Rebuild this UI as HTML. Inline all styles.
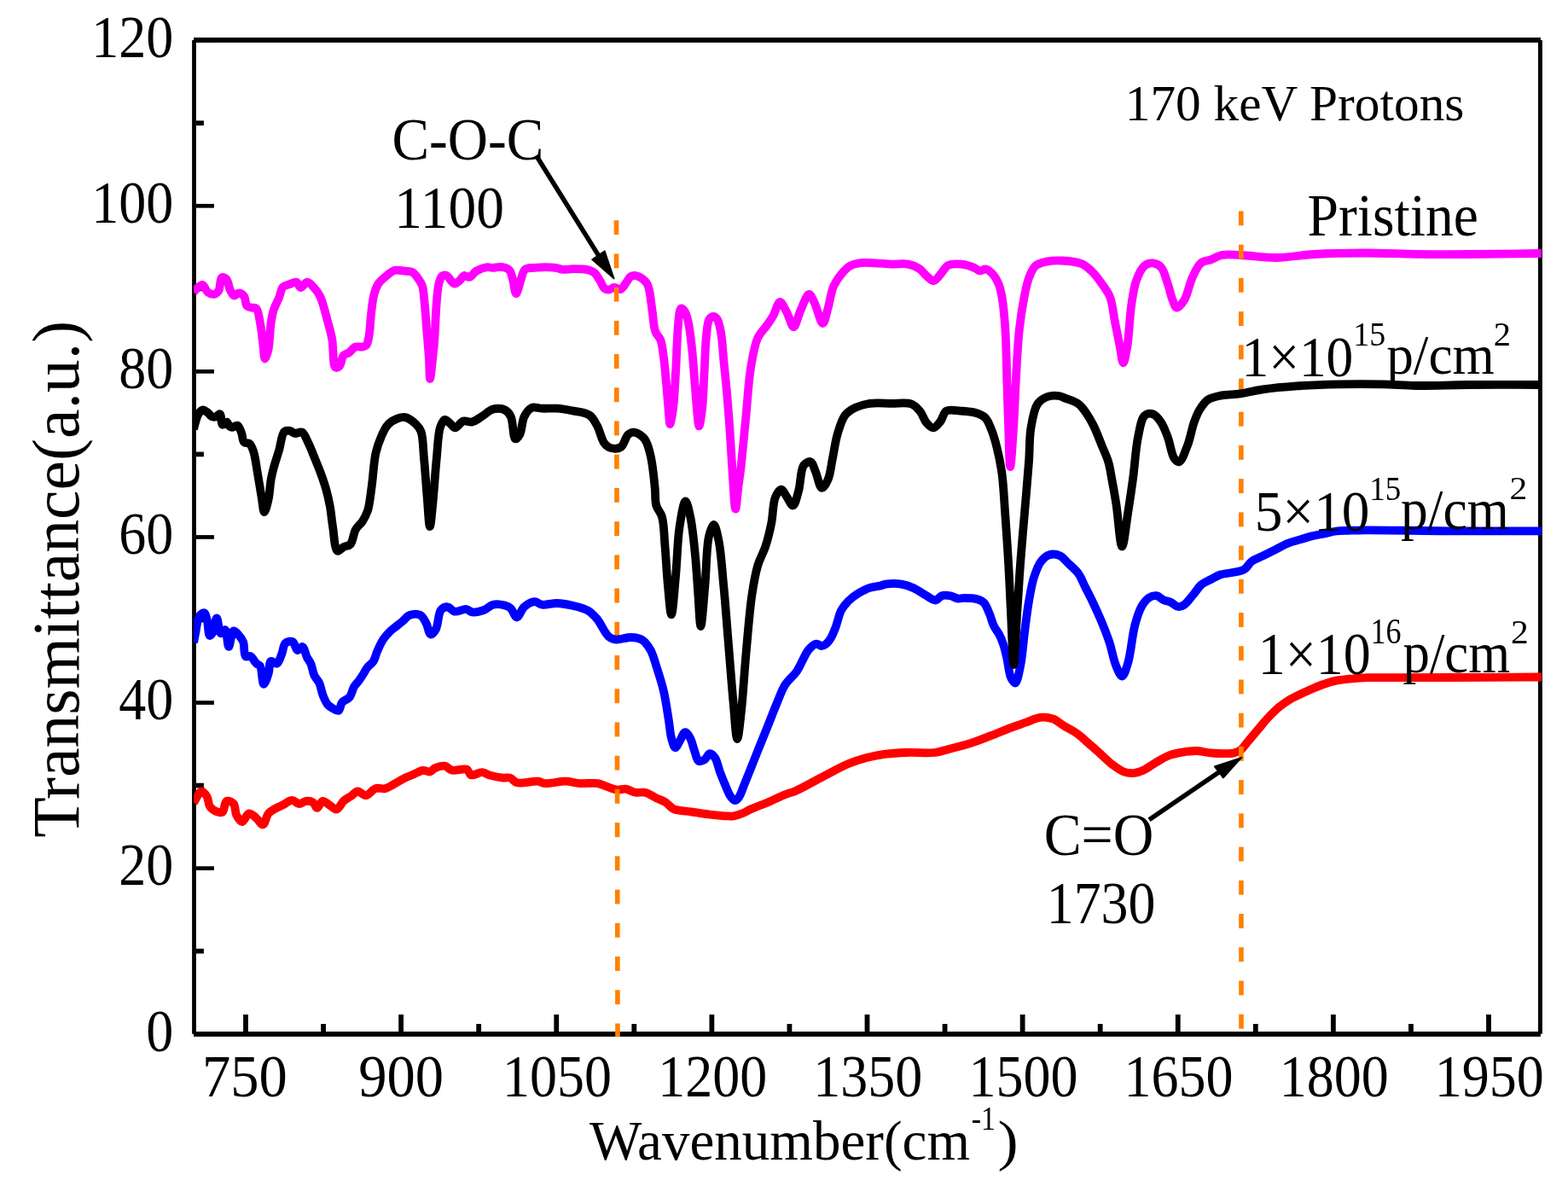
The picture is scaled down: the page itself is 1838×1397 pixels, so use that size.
<!DOCTYPE html><html><head><meta charset="utf-8"><title>FTIR</title><style>html,body{margin:0;padding:0;background:#fff;}svg{display:block;}text{font-family:"Liberation Serif", "Times New Roman", serif;fill:#000;}</style></head><body>
<svg width="1838" height="1397" viewBox="0 0 1838 1397">
<rect width="1838" height="1397" fill="#fff"/>
<g fill="#000">
<rect x="225.1" y="47.1" width="4.8" height="1164.7"/>
<rect x="1803.0" y="47.1" width="4.9" height="1164.6"/>
<rect x="227.1" y="44.0" width="1578.8" height="5.9"/>
<rect x="227.1" y="1209.0" width="1578.8" height="5.9"/>
<rect x="229.9" y="1209.35" width="21.0" height="4.7"/>
<rect x="229.9" y="1111.81" width="9.0" height="5.7"/>
<rect x="229.9" y="1015.27" width="21.0" height="4.7"/>
<rect x="229.9" y="917.73" width="9.0" height="5.7"/>
<rect x="229.9" y="821.19" width="21.0" height="4.7"/>
<rect x="229.9" y="723.65" width="9.0" height="5.7"/>
<rect x="229.9" y="627.11" width="21.0" height="4.7"/>
<rect x="229.9" y="529.57" width="9.0" height="5.7"/>
<rect x="229.9" y="433.03" width="21.0" height="4.7"/>
<rect x="229.9" y="335.49" width="9.0" height="5.7"/>
<rect x="229.9" y="238.95" width="21.0" height="4.7"/>
<rect x="229.9" y="141.41" width="9.0" height="5.7"/>
<rect x="229.9" y="44.87" width="21.0" height="4.7"/>
<rect x="285.10" y="1189.0" width="5.8" height="20.0"/>
<rect x="376.16" y="1200.0" width="5.8" height="9.0"/>
<rect x="467.23" y="1189.0" width="5.8" height="20.0"/>
<rect x="558.29" y="1200.0" width="5.8" height="9.0"/>
<rect x="649.35" y="1189.0" width="5.8" height="20.0"/>
<rect x="740.41" y="1200.0" width="5.8" height="9.0"/>
<rect x="831.48" y="1189.0" width="5.8" height="20.0"/>
<rect x="922.54" y="1200.0" width="5.8" height="9.0"/>
<rect x="1013.60" y="1189.0" width="5.8" height="20.0"/>
<rect x="1104.66" y="1200.0" width="5.8" height="9.0"/>
<rect x="1195.72" y="1189.0" width="5.8" height="20.0"/>
<rect x="1286.79" y="1200.0" width="5.8" height="9.0"/>
<rect x="1377.85" y="1189.0" width="5.8" height="20.0"/>
<rect x="1468.91" y="1200.0" width="5.8" height="9.0"/>
<rect x="1559.97" y="1189.0" width="5.8" height="20.0"/>
<rect x="1651.04" y="1200.0" width="5.8" height="9.0"/>
<rect x="1742.10" y="1189.0" width="5.8" height="20.0"/>
</g>
<defs><clipPath id="pc"><rect x="227" y="0" width="1580.5" height="1397"/></clipPath></defs>
<g clip-path="url(#pc)">
<path d="M227.0,342.5C227.8,341.5 228.3,340.6 229.5,339.5C231.3,337.8 235.0,333.5 237.3,333.9C239.7,334.3 241.1,340.7 243.6,342.5C245.7,344.0 248.6,345.2 250.7,344.9C252.7,344.6 254.7,343.0 256.2,340.9C258.4,337.6 257.8,326.4 260.2,325.2C261.6,324.5 264.2,326.0 265.7,327.6C267.8,329.9 268.0,336.1 269.6,339.4C270.9,342.2 272.4,346.1 274.3,346.5C275.9,346.9 277.9,343.3 279.8,343.3C281.8,343.3 284.6,345.2 286.1,347.2C288.0,349.7 287.4,356.1 289.3,358.3C290.7,359.9 292.9,360.1 294.8,360.6C296.6,361.1 298.8,360.1 300.3,361.4C303.0,363.8 303.7,372.4 305.0,378.7C306.5,385.9 307.2,395.0 308.2,402.4C309.1,408.8 309.3,420.4 310.6,420.5C311.6,420.6 313.5,414.4 314.5,409.8C316.2,402.2 316.3,387.3 317.6,378.7C318.5,372.6 319.2,368.0 320.8,363.0C322.4,358.1 325.2,353.4 327.1,348.8C328.9,344.5 329.3,338.8 331.8,336.2C333.8,334.1 337.0,333.9 339.7,333.0C342.3,332.1 345.5,330.0 347.6,330.7C349.7,331.4 350.4,336.8 352.3,337.0C354.5,337.3 357.6,330.7 360.2,330.7C362.8,330.7 365.6,334.4 368.0,337.0C370.6,339.8 372.9,342.7 375.1,347.2C378.5,354.1 381.3,366.7 383.8,375.6C386.0,383.4 387.8,389.5 389.3,397.6C391.1,407.5 389.9,428.6 393.2,430.7C394.5,431.5 396.6,430.4 398.0,429.1C400.2,427.0 400.4,419.1 402.7,416.5C404.4,414.6 406.9,414.8 409.0,413.4C411.5,411.7 413.7,407.7 416.4,406.6C418.8,405.7 421.9,407.0 424.2,406.6C426.1,406.3 428.0,406.1 429.3,404.7C431.3,402.6 431.7,397.8 432.6,393.1C433.9,386.2 434.1,375.5 435.1,367.3C436.0,359.7 436.7,351.7 438.4,345.4C439.7,340.4 441.2,336.1 443.5,332.5C445.6,329.3 448.2,327.3 451.2,324.8C454.6,322.0 458.7,317.9 462.8,316.8C466.5,315.8 470.8,317.3 474.4,317.7C477.6,318.1 480.9,317.6 483.5,319.0C486.1,320.4 488.0,323.5 489.9,326.1C491.9,328.8 493.8,331.4 495.0,335.1C496.7,340.2 496.8,347.1 497.6,354.4C498.6,363.8 499.3,375.9 500.2,386.6C501.1,397.4 502.1,408.8 502.8,418.9C503.4,427.8 503.4,444.0 504.1,444.0C504.7,444.0 505.8,432.0 506.6,425.3C507.5,417.4 508.4,409.3 509.2,399.5C510.2,386.6 510.7,366.7 511.8,354.4C512.6,345.8 512.9,338.1 514.4,332.5C515.4,328.8 516.3,324.9 518.2,323.5C519.6,322.5 521.6,322.2 523.4,322.9C526.2,323.9 529.5,332.1 532.4,332.5C534.6,332.8 537.0,330.3 538.9,328.7C540.8,327.1 542.0,323.5 544.0,322.9C545.9,322.4 548.4,325.3 550.5,324.8C553.1,324.2 555.1,319.6 558.2,317.7C561.8,315.6 567.5,313.6 571.1,313.2C573.6,312.9 575.1,313.8 577.5,313.8C580.5,313.8 584.5,312.4 587.8,312.9C591.0,313.3 594.8,314.3 596.9,316.4C599.1,318.6 599.5,322.3 600.7,326.1C602.3,331.1 603.3,344.0 605.0,344.1C606.6,344.2 608.5,333.6 610.3,328.7C612.0,324.2 612.6,318.2 615.5,315.8C618.0,313.7 621.6,314.2 625.8,313.8C632.4,313.2 645.4,313.0 651.5,313.8C654.9,314.2 656.3,315.5 659.3,315.8C663.0,316.2 667.5,315.1 672.2,315.1C677.7,315.1 685.8,315.2 690.2,316.4C693.0,317.2 694.6,317.9 696.6,319.6C699.0,321.7 701.1,325.6 703.1,328.7C705.0,331.7 706.1,335.9 708.2,337.7C709.7,339.0 711.6,339.6 713.4,339.6C715.4,339.6 717.5,337.2 719.8,337.0C722.2,336.8 725.3,339.7 727.6,339.0C730.1,338.2 732.0,333.8 734.0,331.2C735.9,328.8 737.2,325.4 739.2,324.1C740.7,323.1 742.4,322.8 744.3,322.9C746.7,323.1 749.8,324.5 752.1,326.1C754.5,327.7 757.0,330.1 758.5,332.5C759.9,334.8 760.2,336.7 761.0,340.0C762.4,345.7 763.4,356.2 764.6,364.3C765.8,372.4 766.0,382.6 768.3,388.7C769.8,392.9 772.8,394.4 774.3,398.4C776.4,403.9 776.9,411.5 778.0,419.1C779.3,428.2 780.0,438.9 781.0,449.5C782.1,461.1 783.3,477.4 784.1,486.0C784.6,490.7 784.7,497.0 785.3,497.0C786.1,497.0 787.9,487.0 788.9,480.0C790.5,469.0 791.1,452.1 792.0,437.4C793.0,421.7 793.4,402.1 794.4,388.7C795.1,379.2 795.5,368.5 796.9,364.3C797.4,362.7 797.9,361.4 798.7,361.3C799.6,361.1 801.2,362.8 802.3,364.3C804.1,366.9 805.4,371.4 806.6,376.5C808.5,384.3 809.7,395.9 810.9,406.9C812.4,419.9 813.4,435.8 814.5,449.5C815.6,462.1 816.5,476.8 817.5,486.0C818.1,491.6 818.6,499.4 819.4,499.4C820.4,499.4 822.1,487.8 823.0,480.0C824.4,468.6 824.7,451.6 825.5,437.4C826.3,423.2 826.6,406.4 827.9,394.8C828.8,386.6 829.0,377.8 831.5,374.1C832.8,372.2 834.8,371.0 836.4,371.0C837.9,371.0 839.5,372.4 840.7,374.1C842.7,377.0 843.7,382.7 844.9,388.7C846.7,398.1 847.4,413.0 848.6,425.2C849.8,437.4 851.1,448.7 852.2,461.7C853.5,476.7 854.8,493.8 855.9,510.0C857.0,526.5 857.9,544.6 859.0,560.0C860.0,573.1 861.0,596.5 862.2,596.5C863.2,596.5 864.4,578.2 865.5,570.0C866.4,563.0 867.2,558.7 868.2,550.4C869.9,535.8 872.2,510.3 874.2,490.3C876.2,470.3 877.3,447.3 880.2,430.2C882.4,417.2 884.3,404.7 888.2,396.1C891.0,390.1 895.2,386.6 898.3,382.1C901.2,378.0 903.8,374.5 906.3,370.1C909.1,365.2 911.5,354.2 914.3,354.0C916.8,353.8 919.8,361.6 922.3,366.1C925.2,371.2 927.7,383.2 930.3,383.1C933.0,383.0 935.3,370.4 938.3,364.1C941.3,357.7 945.3,345.2 948.4,345.0C950.6,344.9 952.3,350.1 954.4,354.0C957.6,360.1 961.7,379.1 964.5,379.0C966.8,378.9 968.5,368.2 970.4,361.8C972.7,354.0 973.9,342.9 977.0,335.7C979.5,330.0 982.7,325.5 986.1,321.3C989.3,317.5 992.8,313.7 996.6,311.5C999.9,309.6 1003.0,308.9 1007.0,308.3C1012.2,307.5 1019.1,308.1 1025.3,308.3C1031.7,308.5 1038.4,309.4 1044.9,309.6C1051.4,309.8 1058.7,308.5 1064.5,309.6C1069.4,310.5 1073.9,312.4 1077.5,314.8C1080.7,316.9 1082.6,320.2 1085.4,322.6C1088.2,325.0 1091.6,329.4 1094.5,329.2C1097.6,328.9 1100.7,323.1 1103.6,320.0C1106.4,317.0 1108.0,312.7 1111.5,310.9C1115.5,308.9 1121.9,309.1 1127.1,309.6C1132.4,310.1 1139.1,312.5 1142.8,314.2C1145.1,315.2 1146.0,317.1 1148.0,317.4C1150.3,317.8 1153.4,315.0 1155.9,315.5C1158.6,316.1 1161.4,318.8 1163.7,321.3C1166.3,324.1 1168.5,327.8 1170.2,331.8C1172.2,336.5 1173.3,341.4 1174.5,348.0C1176.3,358.1 1177.5,372.5 1178.4,386.7C1179.6,404.0 1179.7,425.3 1180.3,444.6C1180.9,463.9 1181.5,484.5 1182.2,502.6C1182.8,518.4 1183.2,547.1 1184.2,547.1C1185.2,547.1 1186.9,518.4 1188.0,502.6C1189.2,484.6 1189.8,463.9 1190.9,444.6C1192.0,425.3 1192.9,404.0 1194.8,386.7C1196.3,372.5 1198.4,359.2 1200.6,348.0C1202.3,339.2 1203.8,331.3 1206.4,324.8C1208.5,319.5 1210.4,314.4 1214.1,311.3C1217.6,308.3 1222.8,307.4 1227.7,306.4C1233.1,305.3 1238.9,305.2 1245.1,305.5C1252.3,305.9 1262.1,306.7 1268.3,309.3C1273.1,311.4 1276.2,314.5 1279.9,318.0C1284.0,322.0 1288.0,327.5 1291.5,332.5C1295.0,337.5 1298.6,341.8 1301.1,348.0C1304.2,355.9 1305.0,367.3 1306.9,377.0C1308.8,386.7 1311.0,397.3 1312.7,406.0C1314.1,413.1 1315.2,425.3 1316.6,425.3C1318.1,425.3 1320.0,413.9 1321.4,406.0C1323.5,393.6 1324.1,371.7 1326.2,357.7C1327.8,346.8 1329.0,336.9 1332.0,328.7C1334.5,321.9 1337.7,314.5 1341.7,311.3C1344.5,309.0 1348.2,308.1 1351.4,308.4C1354.7,308.7 1358.4,310.3 1361.0,313.2C1364.7,317.2 1366.5,326.0 1368.8,332.5C1371.0,338.9 1372.5,346.8 1374.6,351.9C1376.1,355.5 1377.3,360.3 1379.4,360.6C1381.7,360.9 1385.5,356.0 1388.1,351.9C1392.1,345.6 1394.1,332.6 1397.8,324.8C1400.9,318.4 1403.7,311.5 1408.0,308.1C1411.4,305.4 1416.0,305.6 1420.0,304.1C1424.1,302.6 1427.4,300.0 1432.1,299.0C1438.2,297.8 1445.6,298.7 1454.1,299.0C1465.9,299.4 1482.0,302.1 1496.2,302.0C1510.7,301.9 1524.4,298.9 1540.3,298.0C1558.8,296.9 1580.5,296.5 1600.5,296.5C1620.4,296.5 1640.1,297.5 1660.0,297.8C1680.0,298.1 1698.3,298.1 1720.0,298.0C1745.9,297.9 1797.5,297.0 1805.0,297.0C1806.2,297.0 1806.3,297.0 1807.0,297.0" fill="none" stroke="#ff00ff" stroke-width="9.8" stroke-linejoin="round" stroke-linecap="butt"/>
<path d="M227.0,940.7C230.1,936.2 233.3,927.6 236.3,927.3C238.5,927.1 241.2,931.2 242.8,933.9C244.6,937.0 243.9,942.3 246.1,945.3C248.3,948.3 253.1,951.0 255.9,951.8C257.7,952.3 259.4,952.8 260.8,951.8C263.1,950.2 263.1,940.0 265.7,938.8C267.8,937.9 272.0,939.8 273.9,942.0C276.2,944.7 275.3,951.4 277.1,955.1C278.7,958.3 281.4,963.2 283.7,963.2C286.3,963.2 288.9,953.9 291.8,953.4C294.4,953.0 297.4,956.3 300.0,958.3C302.9,960.5 305.8,966.9 308.1,966.5C310.7,966.1 312.1,956.5 314.7,953.4C316.6,951.1 318.7,950.0 321.2,948.5C324.1,946.7 327.6,945.4 331.0,943.7C334.7,941.9 338.9,937.9 342.4,937.9C345.4,937.9 347.8,941.9 350.6,942.0C353.3,942.1 356.0,939.1 358.7,938.8C361.4,938.6 364.7,939.0 366.9,940.4C369.1,941.8 370.0,946.9 371.8,946.9C373.8,946.9 375.8,939.3 378.3,938.8C380.7,938.4 383.8,942.1 386.5,943.7C389.2,945.3 392.1,948.9 394.6,948.5C397.5,948.0 399.7,941.5 402.8,938.8C405.8,936.1 409.7,934.3 412.6,932.2C415.0,930.5 416.6,927.5 419.1,927.3C422.0,927.0 425.6,932.5 428.9,932.2C432.6,931.9 436.3,925.4 440.3,924.1C443.9,922.9 448.2,924.9 451.8,924.1C455.3,923.3 458.2,921.0 461.6,919.2C465.3,917.2 469.1,914.5 473.0,912.6C476.7,910.7 480.6,909.3 484.4,907.7C488.2,906.1 492.3,903.2 495.8,902.8C498.7,902.5 501.6,905.0 504.0,904.5C506.2,904.0 507.4,901.3 509.8,900.2C512.8,898.8 517.8,897.1 521.2,897.7C524.3,898.2 526.0,901.7 529.4,902.6C534.1,903.8 543.5,900.0 547.3,901.8C549.9,903.0 549.8,907.5 552.2,908.4C555.3,909.5 561.5,904.8 565.3,905.1C568.4,905.3 570.2,907.4 573.4,908.4C577.9,909.7 585.3,911.2 589.8,911.6C593.0,911.9 595.3,910.8 597.9,911.6C600.8,912.5 602.4,916.3 606.1,917.3C611.9,918.9 624.7,915.0 630.6,915.7C634.1,916.1 635.2,917.8 638.7,918.1C644.6,918.7 655.9,915.5 663.2,915.7C669.2,915.8 673.7,917.7 679.5,918.1C686.1,918.6 694.8,917.1 700.7,918.1C705.2,918.9 708.4,921.0 712.2,922.2C716.0,923.4 719.9,925.1 723.6,925.5C727.0,925.8 730.1,924.3 733.4,924.7C737.1,925.2 740.9,928.1 744.8,928.8C748.5,929.5 752.4,927.9 756.2,928.8C760.5,929.8 765.1,933.3 769.3,935.3C773.0,937.1 776.6,938.1 780.0,940.2C783.5,942.4 785.8,946.4 790.0,948.3C795.3,950.6 803.4,950.3 810.1,951.3C816.8,952.3 823.4,953.5 830.1,954.3C836.8,955.1 844.7,956.0 850.2,956.3C854.1,956.5 856.9,956.8 860.2,956.3C863.6,955.8 866.9,954.6 870.2,953.3C873.6,952.0 876.2,950.1 880.2,948.3C885.7,945.8 893.6,943.0 900.3,940.2C907.0,937.3 914.4,933.6 920.3,931.2C924.9,929.4 927.6,929.1 932.6,926.9C941.0,923.3 954.7,915.2 965.3,909.8C975.3,904.7 985.8,898.8 994.7,895.1C1001.8,892.2 1007.3,890.3 1014.2,888.5C1021.8,886.5 1030.5,884.8 1038.7,883.7C1046.8,882.6 1054.4,882.3 1063.2,882.0C1073.3,881.6 1086.9,883.1 1095.9,882.0C1102.3,881.2 1106.2,879.4 1112.2,877.9C1119.5,876.0 1128.6,874.0 1136.7,871.4C1144.9,868.8 1153.0,865.5 1161.1,862.4C1169.3,859.3 1178.1,855.4 1185.6,852.6C1191.9,850.2 1197.4,848.5 1203.1,846.5C1208.6,844.6 1214.0,841.4 1219.4,840.8C1224.4,840.2 1229.5,840.8 1234.1,842.4C1238.8,844.0 1242.5,847.8 1247.1,850.6C1252.2,853.7 1258.6,856.9 1263.4,860.4C1267.7,863.5 1271.0,866.8 1274.9,870.2C1279.1,873.8 1283.3,877.5 1287.9,881.6C1293.0,886.2 1298.9,892.3 1304.2,896.3C1308.7,899.7 1312.9,902.9 1317.3,904.5C1321.1,905.9 1324.9,906.4 1328.7,906.1C1332.6,905.8 1336.4,904.5 1340.2,902.8C1344.5,900.9 1348.6,897.4 1353.2,894.7C1358.3,891.7 1363.9,887.9 1369.5,885.7C1374.8,883.6 1380.4,882.6 1385.9,881.6C1391.3,880.7 1396.8,879.9 1402.2,880.0C1407.6,880.1 1413.1,881.9 1418.5,882.4C1423.9,882.9 1429.9,883.3 1434.8,883.2C1438.9,883.2 1442.8,883.2 1446.2,882.4C1449.2,881.7 1451.9,880.8 1454.4,879.0C1457.3,876.9 1459.4,873.0 1462.0,870.0C1464.6,866.9 1467.3,863.7 1470.0,860.5C1472.7,857.3 1475.3,854.2 1478.0,851.0C1480.7,847.8 1483.0,844.8 1486.1,841.5C1489.9,837.5 1494.7,832.5 1499.2,828.8C1503.4,825.3 1507.8,822.3 1512.2,819.6C1516.5,817.1 1520.9,815.2 1525.3,813.1C1529.6,811.0 1533.9,809.1 1538.3,807.2C1542.6,805.4 1547.0,803.5 1551.4,802.0C1555.7,800.5 1559.6,799.1 1564.5,798.1C1570.3,796.9 1577.6,796.2 1584.1,795.5C1590.6,794.9 1596.0,794.5 1603.6,794.2C1614.4,793.8 1628.5,794.2 1642.8,794.2C1660.1,794.2 1678.1,794.1 1700.0,794.0C1729.7,793.9 1796.5,793.5 1805.0,793.5C1806.2,793.5 1806.3,793.5 1807.0,793.5" fill="none" stroke="#ff0000" stroke-width="9.8" stroke-linejoin="round" stroke-linecap="butt"/>
</g>
<rect x="719.70" y="258.20" width="5.6" height="16.9" fill="#ff8000"/><rect x="719.76" y="297.42" width="5.6" height="16.9" fill="#ff8000"/><rect x="719.82" y="336.64" width="5.6" height="16.9" fill="#ff8000"/><rect x="719.88" y="375.86" width="5.6" height="16.9" fill="#ff8000"/><rect x="719.95" y="415.08" width="5.6" height="16.9" fill="#ff8000"/><rect x="720.01" y="454.30" width="5.6" height="16.9" fill="#ff8000"/><rect x="720.07" y="493.52" width="5.6" height="16.9" fill="#ff8000"/><rect x="720.13" y="532.74" width="5.6" height="16.9" fill="#ff8000"/><rect x="720.19" y="571.96" width="5.6" height="16.9" fill="#ff8000"/><rect x="720.25" y="611.18" width="5.6" height="16.9" fill="#ff8000"/><rect x="720.31" y="650.40" width="5.6" height="16.9" fill="#ff8000"/><rect x="720.38" y="689.62" width="5.6" height="16.9" fill="#ff8000"/><rect x="720.44" y="728.84" width="5.6" height="16.9" fill="#ff8000"/><rect x="720.50" y="768.06" width="5.6" height="16.9" fill="#ff8000"/><rect x="720.56" y="807.28" width="5.6" height="16.9" fill="#ff8000"/><rect x="720.62" y="846.50" width="5.6" height="16.9" fill="#ff8000"/><rect x="720.68" y="885.72" width="5.6" height="16.9" fill="#ff8000"/><rect x="720.75" y="924.94" width="5.6" height="16.9" fill="#ff8000"/><rect x="720.81" y="964.16" width="5.6" height="16.9" fill="#ff8000"/><rect x="720.87" y="1003.38" width="5.6" height="16.9" fill="#ff8000"/><rect x="720.93" y="1042.60" width="5.6" height="16.9" fill="#ff8000"/><rect x="720.99" y="1081.82" width="5.6" height="16.9" fill="#ff8000"/><rect x="721.05" y="1121.04" width="5.6" height="16.9" fill="#ff8000"/><rect x="721.11" y="1160.26" width="5.6" height="16.9" fill="#ff8000"/><rect x="721.18" y="1199.48" width="5.6" height="15.5" fill="#ff8000"/>
<rect x="1452.00" y="247.40" width="5.6" height="16.9" fill="#ff8000"/><rect x="1452.01" y="286.62" width="5.6" height="16.9" fill="#ff8000"/><rect x="1452.02" y="325.84" width="5.6" height="16.9" fill="#ff8000"/><rect x="1452.02" y="365.06" width="5.6" height="16.9" fill="#ff8000"/><rect x="1452.03" y="404.28" width="5.6" height="16.9" fill="#ff8000"/><rect x="1452.04" y="443.50" width="5.6" height="16.9" fill="#ff8000"/><rect x="1452.05" y="482.72" width="5.6" height="16.9" fill="#ff8000"/><rect x="1452.06" y="521.94" width="5.6" height="16.9" fill="#ff8000"/><rect x="1452.06" y="561.16" width="5.6" height="16.9" fill="#ff8000"/><rect x="1452.07" y="600.38" width="5.6" height="16.9" fill="#ff8000"/><rect x="1452.08" y="639.60" width="5.6" height="16.9" fill="#ff8000"/><rect x="1452.09" y="678.82" width="5.6" height="16.9" fill="#ff8000"/><rect x="1452.10" y="718.04" width="5.6" height="16.9" fill="#ff8000"/><rect x="1452.11" y="757.26" width="5.6" height="16.9" fill="#ff8000"/><rect x="1452.11" y="796.48" width="5.6" height="16.9" fill="#ff8000"/><rect x="1452.12" y="835.70" width="5.6" height="16.9" fill="#ff8000"/><rect x="1452.13" y="874.92" width="5.6" height="16.9" fill="#ff8000"/><rect x="1452.14" y="914.14" width="5.6" height="16.9" fill="#ff8000"/><rect x="1452.15" y="953.36" width="5.6" height="16.9" fill="#ff8000"/><rect x="1452.15" y="992.58" width="5.6" height="16.9" fill="#ff8000"/><rect x="1452.16" y="1031.80" width="5.6" height="16.9" fill="#ff8000"/><rect x="1452.17" y="1071.02" width="5.6" height="16.9" fill="#ff8000"/><rect x="1452.18" y="1110.24" width="5.6" height="16.9" fill="#ff8000"/><rect x="1452.19" y="1149.46" width="5.6" height="16.9" fill="#ff8000"/><rect x="1452.19" y="1188.68" width="5.6" height="16.9" fill="#ff8000"/>
<g clip-path="url(#pc)">
<path d="M227.0,753.0C227.8,748.7 228.7,744.3 229.5,740.0C230.3,735.7 230.8,730.6 232.0,727.0C232.9,724.2 233.9,721.4 235.5,720.0C236.7,718.9 238.7,717.9 239.8,718.5C241.5,719.3 242.1,724.3 243.0,728.0C244.2,732.8 244.1,744.4 245.8,745.0C246.7,745.3 248.0,743.6 249.0,742.0C251.0,738.7 252.4,724.5 254.0,724.5C255.7,724.5 256.5,741.6 258.9,742.3C260.3,742.7 262.5,737.6 263.9,738.1C266.3,738.9 266.4,757.8 268.1,757.9C269.7,758.0 271.2,740.3 273.8,739.5C275.4,739.0 277.7,742.0 279.4,743.8C281.5,746.0 283.7,748.7 285.1,752.2C286.9,756.7 285.5,767.1 287.9,769.2C289.3,770.4 291.8,768.3 293.6,769.2C296.1,770.4 298.4,775.7 300.6,777.7C302.1,779.0 303.7,778.7 304.9,780.5C307.3,784.1 307.2,801.6 309.1,801.8C310.7,802.0 313.4,793.5 314.8,789.0C316.2,784.5 315.3,776.1 317.6,774.9C319.3,774.0 322.7,778.5 324.7,777.7C327.2,776.7 328.7,770.3 330.3,766.4C332.0,762.3 332.0,755.9 334.6,753.7C336.7,751.9 340.8,751.1 343.1,752.2C345.7,753.4 346.5,761.6 348.7,762.1C350.4,762.5 352.7,757.5 354.4,757.9C356.7,758.5 358.1,767.0 360.0,770.6C361.4,773.4 363.0,774.8 364.3,777.7C366.0,781.5 366.6,787.9 368.5,791.9C370.1,795.2 372.6,797.0 374.2,800.3C376.1,804.3 376.7,810.1 378.4,814.5C380.0,818.6 381.8,823.1 384.1,825.8C385.8,827.8 387.7,828.8 389.8,830.0C391.9,831.2 395.0,833.6 396.8,832.9C399.0,832.0 398.9,825.6 401.1,823.0C403.2,820.5 407.3,820.0 409.6,817.3C412.2,814.2 413.1,808.1 415.2,804.6C416.9,801.8 419.1,800.0 420.9,797.5C422.8,794.8 424.8,791.7 426.5,789.0C428.0,786.6 429.0,784.2 430.8,782.0C432.7,779.5 436.0,777.8 437.8,774.9C439.8,771.7 440.4,767.5 442.1,763.6C444.1,759.1 446.4,753.6 449.2,749.4C451.7,745.6 454.9,742.2 457.7,739.5C460.0,737.2 462.4,735.8 464.7,733.9C467.1,732.0 469.3,730.2 471.8,728.2C474.5,725.9 477.0,722.1 480.4,720.9C483.9,719.6 489.4,719.3 492.6,720.9C495.8,722.5 497.6,726.9 499.6,730.5C501.7,734.4 502.6,743.0 504.8,743.5C506.5,743.9 509.2,740.5 510.9,737.5C513.8,732.6 513.5,718.9 517.0,714.8C519.1,712.4 522.3,711.1 524.8,711.3C527.5,711.5 529.5,715.9 532.7,716.6C536.6,717.4 542.8,713.5 546.6,714.0C549.4,714.4 550.8,717.0 553.6,717.4C557.4,717.9 563.3,716.4 567.5,714.8C571.4,713.4 574.0,709.6 577.9,708.7C582.1,707.7 588.1,708.6 591.9,709.6C594.7,710.4 596.7,711.2 598.8,713.1C601.5,715.5 603.3,723.5 605.8,723.5C608.5,723.5 610.9,714.4 614.5,711.3C617.9,708.4 622.9,705.4 626.7,705.2C629.8,705.1 631.9,708.2 635.4,708.7C640.1,709.4 647.0,706.9 652.8,707.0C658.6,707.1 664.3,708.2 670.2,709.6C676.5,711.1 684.2,712.7 689.4,715.7C693.7,718.2 696.3,721.2 699.8,725.3C704.4,730.7 709.0,742.4 713.7,746.2C716.6,748.5 718.9,749.2 722.4,749.6C727.1,750.1 734.5,746.8 739.8,747.0C744.2,747.1 748.4,747.5 752.0,749.6C756.1,752.0 759.7,757.0 762.5,761.8C765.7,767.2 767.1,773.9 769.4,781.0C772.3,789.8 775.7,800.3 778.1,810.6C780.6,821.6 782.4,835.1 784.0,845.0C785.2,852.6 785.5,859.5 787.0,865.1C788.2,869.4 789.7,875.9 791.5,876.1C793.1,876.3 795.2,870.9 797.0,868.1C799.0,865.0 800.9,858.3 803.1,858.1C805.0,857.9 807.4,862.1 809.1,865.1C811.3,869.0 812.3,875.4 814.1,880.1C815.7,884.4 816.6,890.9 819.1,892.1C821.0,893.0 824.0,891.4 826.1,890.1C828.4,888.6 830.0,883.3 832.1,883.1C834.0,882.9 836.4,885.6 838.1,888.1C840.7,891.9 842.0,899.7 844.1,905.2C846.1,910.4 848.1,915.4 850.2,920.2C852.2,924.7 854.0,930.0 856.2,933.2C857.8,935.4 859.5,938.1 861.2,938.2C862.8,938.3 864.7,936.2 866.2,934.2C868.5,931.1 870.1,925.3 872.2,920.2C874.7,914.1 877.4,907.2 880.2,900.2C883.4,892.3 886.8,883.5 890.2,875.1C893.5,866.8 897.0,858.4 900.3,850.1C903.7,841.7 906.9,833.1 910.3,825.0C913.6,817.3 916.1,809.3 920.3,802.7C924.2,796.6 929.7,792.9 934.0,786.7C939.0,779.5 943.1,767.0 947.8,761.5C950.8,758.0 954.1,755.0 956.9,754.6C959.1,754.3 961.1,757.1 963.0,757.1C964.8,757.1 966.4,756.1 968.0,755.0C969.9,753.7 971.5,751.7 973.1,749.2C975.4,745.6 977.6,740.1 979.6,734.9C981.9,728.9 983.3,720.6 986.1,715.3C988.3,711.0 990.9,708.0 994.0,704.8C997.3,701.4 1001.6,698.3 1005.7,695.7C1009.8,693.1 1014.3,690.7 1018.8,689.2C1023.0,687.7 1028.2,687.5 1031.8,686.6C1034.4,686.0 1035.5,685.0 1038.3,684.6C1042.8,683.9 1050.9,683.7 1056.6,684.6C1061.8,685.4 1066.4,687.1 1071.0,689.2C1075.6,691.3 1079.7,694.6 1084.1,697.0C1088.4,699.4 1093.6,703.9 1097.1,703.5C1099.7,703.2 1101.0,699.2 1103.6,698.3C1106.5,697.3 1110.8,697.7 1114.1,698.3C1117.3,698.9 1120.4,701.3 1123.2,701.6C1125.5,701.9 1127.1,700.9 1129.8,700.9C1133.9,700.9 1141.2,701.0 1145.4,702.2C1148.6,703.1 1151.1,704.0 1153.3,706.2C1156.1,709.1 1157.9,714.7 1159.8,719.2C1161.8,723.8 1162.9,729.3 1165.0,733.6C1166.9,737.5 1169.7,740.4 1171.5,744.0C1173.3,747.5 1174.6,751.0 1176.0,755.0C1177.6,759.7 1178.7,764.8 1180.1,770.5C1181.8,777.6 1182.6,789.3 1185.1,794.5C1186.5,797.4 1188.6,800.8 1190.1,800.5C1192.5,800.0 1194.4,788.4 1196.1,780.5C1198.4,769.5 1199.4,753.4 1201.1,740.4C1202.7,728.0 1204.1,715.5 1206.1,704.3C1207.9,694.3 1209.4,684.5 1212.1,676.3C1214.3,669.5 1216.6,662.7 1220.1,658.2C1222.9,654.6 1226.4,651.3 1230.2,650.2C1233.8,649.1 1238.6,649.6 1242.2,651.2C1246.0,652.8 1248.8,656.9 1252.2,660.2C1256.1,663.9 1260.9,667.7 1264.2,672.3C1267.6,677.0 1269.5,683.0 1272.2,688.3C1274.9,693.6 1277.5,698.5 1280.3,704.3C1283.5,711.0 1287.1,718.7 1290.3,726.4C1293.8,734.7 1297.3,743.5 1300.3,752.4C1303.3,761.5 1305.2,773.2 1308.3,780.5C1310.4,785.5 1313.1,792.6 1315.3,792.5C1317.8,792.4 1320.2,783.3 1322.3,776.5C1325.6,765.6 1327.1,744.5 1330.4,732.4C1332.8,723.7 1335.1,716.0 1338.4,710.3C1340.9,706.0 1343.9,702.3 1347.1,700.3C1349.7,698.7 1352.9,697.8 1355.6,698.2C1358.5,698.6 1361.1,701.9 1364.0,703.2C1366.8,704.5 1369.7,704.7 1372.5,706.0C1375.4,707.3 1378.2,710.7 1381.0,711.0C1383.4,711.3 1385.7,710.4 1388.1,708.8C1391.8,706.4 1395.9,700.2 1399.4,696.1C1402.5,692.4 1404.6,688.4 1407.9,685.5C1411.2,682.7 1415.4,681.1 1419.2,679.1C1422.9,677.1 1426.2,674.9 1430.5,673.5C1435.5,671.9 1442.4,671.8 1447.5,670.6C1451.7,669.6 1455.5,669.2 1458.8,667.1C1462.2,665.0 1463.8,660.5 1467.3,657.9C1471.2,655.0 1476.8,653.2 1481.5,650.8C1486.2,648.5 1490.9,646.1 1495.6,643.8C1500.3,641.4 1505.0,638.6 1509.8,636.7C1514.4,634.9 1519.2,633.8 1523.9,632.4C1528.6,631.0 1533.3,629.4 1538.0,628.2C1542.7,627.0 1547.5,626.4 1552.2,625.4C1556.9,624.5 1561.6,623.1 1566.3,622.5C1571.0,621.9 1575.4,622.0 1580.5,621.8C1586.5,621.6 1591.0,621.4 1600.0,621.3C1620.4,621.1 1666.3,622.1 1700.0,622.3C1734.6,622.5 1796.5,622.3 1805.0,622.3C1806.2,622.3 1806.3,622.3 1807.0,622.3" fill="none" stroke="#0000ff" stroke-width="9.8" stroke-linejoin="round" stroke-linecap="butt"/>
<path d="M227.0,503.0C227.6,500.7 227.9,498.7 228.7,496.2C229.7,493.0 230.9,488.0 232.6,485.2C233.9,483.1 235.5,480.8 237.3,480.5C239.2,480.2 241.7,482.3 243.6,483.6C245.4,484.9 246.6,487.6 248.3,488.3C249.8,488.9 251.6,488.8 253.1,488.3C254.8,487.8 256.6,484.7 257.8,485.2C259.6,485.9 259.0,497.1 260.9,497.8C262.1,498.3 264.4,494.3 265.7,494.6C267.0,494.9 267.6,498.3 268.8,499.4C269.8,500.2 270.7,500.8 272.0,500.9C273.7,501.0 276.6,497.9 278.3,498.6C280.4,499.4 281.7,504.1 283.0,507.2C284.4,510.6 284.1,516.3 286.1,518.3C287.6,519.8 290.7,518.4 292.4,519.8C294.6,521.5 295.8,525.3 297.2,529.3C299.3,535.6 300.4,545.8 301.9,554.5C303.5,563.7 305.2,574.5 306.6,582.8C307.7,589.3 308.4,600.1 309.8,600.2C311.1,600.3 313.3,591.4 314.5,586.0C316.1,579.2 316.4,569.2 317.6,562.4C318.6,557.0 319.4,553.3 320.8,548.2C322.5,542.0 325.0,534.7 327.1,527.7C329.2,520.5 330.1,508.6 333.4,505.7C335.2,504.2 337.7,504.6 339.7,504.9C341.9,505.3 343.7,507.7 346.0,508.0C348.4,508.3 351.6,505.4 353.9,506.5C357.1,508.0 359.2,514.9 361.7,519.8C364.5,525.5 367.1,532.7 369.6,538.7C371.8,544.2 373.9,549.0 375.9,554.5C378.1,560.5 380.4,566.9 382.2,573.4C384.1,580.1 385.6,586.8 386.9,593.9C388.3,601.5 388.7,609.3 390.1,617.5C391.6,626.5 392.1,644.3 395.6,645.8C397.5,646.6 400.2,642.4 402.7,641.1C405.2,639.8 408.5,640.2 410.6,638.0C413.8,634.7 414.2,625.3 416.9,620.6C419.1,616.8 422.4,614.7 424.7,611.2C427.2,607.4 429.3,603.8 431.0,598.6C433.4,591.2 434.2,580.5 435.7,570.2C437.4,558.2 438.1,541.5 440.5,530.9C442.2,523.4 444.3,517.7 446.8,512.0C449.1,506.8 451.2,501.4 454.6,497.8C457.7,494.5 462.0,492.1 465.7,490.7C468.8,489.5 471.9,488.4 475.1,489.1C479.1,489.9 484.2,494.0 487.4,497.0C490.1,499.6 492.0,501.6 493.5,505.7C496.1,512.7 495.9,525.7 497.0,537.0C498.3,550.3 499.3,566.7 500.5,580.6C501.6,593.3 502.7,617.1 503.9,617.1C505.0,617.1 506.3,600.0 507.4,589.3C508.9,574.6 510.2,552.9 511.8,537.0C513.1,523.7 513.4,508.3 516.1,500.5C517.5,496.4 519.3,492.2 521.4,491.8C523.2,491.4 525.5,494.5 527.5,496.1C529.6,497.7 531.2,501.4 533.5,501.4C536.3,501.4 539.6,494.6 543.1,493.5C546.3,492.5 550.1,495.2 553.6,494.4C557.7,493.5 561.8,489.9 565.8,487.4C569.9,484.9 573.5,480.7 577.9,479.6C582.2,478.5 588.3,478.7 591.9,480.5C595.0,482.0 597.0,484.6 598.8,488.3C601.7,494.2 601.3,513.6 604.1,514.4C605.6,514.8 607.8,511.8 609.3,509.2C611.8,504.8 611.7,493.8 614.5,488.3C616.7,483.9 619.6,479.4 623.2,477.9C626.6,476.4 631.0,478.6 635.4,478.7C640.7,478.9 647.0,478.3 652.8,478.7C658.6,479.1 664.2,480.1 670.2,481.3C676.9,482.6 686.0,483.1 691.1,486.6C695.3,489.5 697.1,493.9 699.8,498.7C703.1,504.6 705.1,515.2 708.5,519.6C710.6,522.4 712.7,524.1 715.5,524.9C718.9,525.9 724.4,526.1 727.7,524.0C731.6,521.5 733.1,512.0 736.4,509.2C738.5,507.4 740.7,506.3 743.3,506.6C746.9,507.0 752.4,510.5 755.5,514.4C759.2,519.0 760.6,526.0 762.5,533.6C765.1,544.1 766.6,561.1 767.7,571.9C768.5,579.7 767.6,586.2 769.2,592.1C770.6,597.3 774.3,600.0 776.0,605.8C778.5,614.5 778.4,627.8 779.5,640.1C780.7,654.3 781.5,671.8 782.9,686.0C784.1,698.3 785.6,720.3 787.0,720.3C788.6,720.3 790.6,690.6 792.1,674.5C793.8,656.5 794.1,633.1 796.6,617.2C798.4,605.6 801.1,587.6 803.5,587.5C805.4,587.4 807.6,598.2 809.2,605.8C811.8,617.5 813.5,636.3 815.0,651.6C816.5,666.8 817.3,683.0 818.4,697.4C819.4,710.3 820.2,734.0 821.4,734.0C822.8,734.0 824.9,702.7 826.4,686.0C828.1,667.8 828.0,641.1 831.0,628.7C832.5,622.4 834.9,614.9 836.7,615.0C838.7,615.1 840.8,625.5 842.4,633.3C845.1,646.2 846.4,667.3 848.2,686.0C850.3,707.3 852.0,731.7 853.9,754.6C855.8,777.5 857.7,803.1 859.6,823.3C861.1,839.2 862.5,866.0 864.2,866.0C865.6,866.0 867.4,847.3 868.8,834.8C870.9,816.4 872.4,789.0 874.5,766.1C876.6,743.2 878.6,716.3 881.4,697.4C883.4,683.9 885.2,673.2 888.2,663.0C890.7,654.5 894.8,648.2 897.4,640.1C900.2,631.5 902.4,622.1 904.3,612.7C906.2,603.0 905.9,589.8 908.8,582.9C910.6,578.7 913.4,573.7 915.7,573.7C918.0,573.7 920.3,579.8 922.6,582.9C924.9,586.1 927.4,592.8 929.5,592.5C932.1,592.2 934.3,581.6 936.2,574.9C938.6,566.4 938.2,550.7 942.0,545.5C944.1,542.6 947.9,540.4 950.1,541.1C952.7,541.9 954.0,548.4 956.0,552.8C958.4,558.3 960.5,571.5 963.3,571.9C965.5,572.2 968.8,566.1 970.7,561.7C973.4,555.7 974.1,546.4 975.8,538.1C977.7,528.9 979.0,517.8 981.7,508.8C984.1,500.8 986.4,492.0 990.5,486.7C993.7,482.5 997.7,480.2 1002.3,477.9C1007.4,475.4 1013.4,473.7 1019.9,472.8C1027.4,471.7 1036.7,472.7 1044.9,472.8C1052.9,472.9 1062.4,471.2 1068.4,473.5C1072.9,475.2 1075.8,478.8 1078.7,482.3C1081.7,486.0 1083.1,492.2 1086.0,495.5C1088.4,498.2 1091.5,501.5 1094.1,501.4C1096.9,501.3 1099.8,497.1 1102.2,494.1C1105.0,490.7 1105.8,483.7 1109.5,481.6C1113.4,479.3 1120.2,481.3 1125.7,481.6C1131.5,482.0 1138.1,482.2 1143.3,483.8C1147.7,485.1 1151.9,486.6 1155.0,489.7C1158.5,493.2 1160.3,499.1 1162.4,504.4C1164.8,510.3 1166.5,516.4 1168.3,523.5C1170.5,532.2 1172.6,541.8 1174.2,552.8C1176.2,566.6 1176.9,583.4 1178.1,600.1C1179.5,618.9 1180.9,640.2 1182.1,660.2C1183.3,680.3 1184.1,700.5 1185.1,720.4C1186.1,740.1 1187.1,779.0 1188.3,779.0C1189.5,779.0 1190.8,740.1 1192.1,720.4C1193.4,700.5 1194.6,680.3 1196.1,660.2C1197.6,640.2 1199.4,620.1 1201.1,600.1C1202.8,580.1 1204.8,557.7 1206.1,540.0C1207.1,526.1 1206.4,514.2 1208.3,502.6C1210.0,492.2 1211.7,480.0 1216.1,473.6C1219.1,469.2 1223.4,466.6 1227.7,465.0C1231.8,463.5 1237.4,463.5 1241.2,464.0C1244.2,464.4 1246.0,465.7 1249.0,466.9C1253.3,468.6 1260.2,470.4 1264.4,473.6C1268.4,476.6 1271.1,481.0 1274.0,485.2C1276.9,489.4 1279.2,493.6 1281.8,498.8C1285.1,505.4 1288.5,514.6 1291.5,522.0C1294.2,528.7 1297.3,534.8 1299.2,541.3C1301.1,547.5 1301.7,553.0 1303.0,560.0C1304.7,568.8 1306.5,578.8 1308.3,590.1C1310.6,604.7 1312.8,640.5 1315.3,640.5C1317.5,640.5 1320.1,613.6 1322.3,600.1C1324.4,586.7 1326.3,574.0 1328.2,560.0C1330.2,544.8 1331.2,525.6 1334.0,512.3C1336.1,502.5 1337.5,491.1 1341.7,487.2C1344.3,484.8 1348.4,484.3 1351.4,485.2C1354.9,486.3 1358.3,490.9 1361.0,494.9C1364.2,499.6 1366.4,505.9 1368.8,512.3C1371.6,519.8 1373.2,532.9 1376.5,537.4C1378.2,539.7 1380.4,541.8 1382.3,541.3C1385.6,540.4 1389.2,529.1 1392.0,522.0C1395.2,513.9 1397.0,502.4 1399.7,494.9C1401.7,489.3 1403.3,484.9 1406.0,480.5C1408.7,476.1 1411.8,471.2 1416.0,468.4C1420.4,465.5 1426.2,464.6 1432.1,463.4C1438.8,462.1 1446.5,462.5 1454.1,461.4C1462.5,460.2 1470.5,457.8 1480.2,456.4C1492.1,454.7 1506.2,453.4 1520.3,452.4C1536.1,451.3 1553.7,450.7 1570.4,450.4C1587.1,450.1 1604.8,450.1 1620.5,450.4C1634.5,450.7 1645.5,451.8 1660.0,452.0C1677.9,452.2 1698.3,451.2 1720.0,451.0C1745.9,450.8 1797.5,451.0 1805.0,451.0C1806.2,451.0 1806.3,451.0 1807.0,451.0" fill="none" stroke="#000000" stroke-width="9.8" stroke-linejoin="round" stroke-linecap="butt"/>
</g>
<line x1="628.5" y1="182.2" x2="701.4" y2="299.1" stroke="#000" stroke-width="5.5"/><polygon points="719.8,326.6 694.0,304.1 708.8,294.0" fill="#000" stroke="#000" stroke-width="1.5" stroke-linejoin="round"/>
<line x1="1347.0" y1="960.8" x2="1428.8" y2="905.0" stroke="#000" stroke-width="5.5"/><polygon points="1455.7,887.6 1423.6,898.3 1433.9,911.7" fill="#000" stroke="#000" stroke-width="1.5" stroke-linejoin="round"/>
<text transform="translate(171.30 1231.50) scale(1.0000 1.0900)" font-size="64">0</text>
<text transform="translate(139.30 1037.42) scale(1.0000 1.0900)" font-size="64">20</text>
<text transform="translate(139.30 843.34) scale(1.0000 1.0900)" font-size="64">40</text>
<text transform="translate(139.30 649.26) scale(1.0000 1.0900)" font-size="64">60</text>
<text transform="translate(139.30 455.18) scale(1.0000 1.0900)" font-size="64">80</text>
<text transform="translate(107.30 261.10) scale(1.0000 1.0900)" font-size="64">100</text>
<text transform="translate(107.30 67.02) scale(1.0000 1.0900)" font-size="64">120</text>
<text transform="translate(237.04 1285.15) scale(1.0400 1.0800)" font-size="64">750</text>
<text transform="translate(420.20 1285.15) scale(1.0400 1.0800)" font-size="64">900</text>
<text transform="translate(589.05 1285.15) scale(1.0000 1.0800)" font-size="64">1050</text>
<text transform="translate(771.17 1285.15) scale(1.0000 1.0800)" font-size="64">1200</text>
<text transform="translate(953.30 1285.15) scale(1.0000 1.0800)" font-size="64">1350</text>
<text transform="translate(1135.42 1285.15) scale(1.0000 1.0800)" font-size="64">1500</text>
<text transform="translate(1317.55 1285.15) scale(1.0000 1.0800)" font-size="64">1650</text>
<text transform="translate(1499.67 1285.15) scale(1.0000 1.0800)" font-size="64">1800</text>
<text transform="translate(1681.80 1285.15) scale(1.0000 1.0800)" font-size="64">1950</text>
<text transform="translate(91.51 981.71) rotate(-90) scale(1.0094 1.0116)" font-size="77">Transmittance(a.u.)</text>
<text transform="translate(690.90 1359.39) scale(1.0164 1.0316)" font-size="64">Wavenumber(cm</text>
<text transform="translate(1138.65 1324.30) scale(0.8500 1.0192)" font-size="40">-1</text>
<text transform="translate(1169.54 1359.39) scale(1.1313 1.0316)" font-size="64">)</text>
<text transform="translate(459.44 187.10) scale(1.0202 1.0881)" font-size="64">C-O-C</text>
<text transform="translate(462.36 266.90) scale(1.0231 1.0833)" font-size="64">1100</text>
<text transform="translate(1318.77 141.10) scale(1.0054 0.9976)" font-size="59">170 keV Protons</text>
<text transform="translate(1532.58 276.00) scale(1.0088 1.0791)" font-size="65">Pristine</text>
<text transform="translate(1455.45 440.70) scale(0.9911 1.0667)" font-size="64">1×10</text>
<text transform="translate(1586.20 404.50) scale(0.9500 1.0231)" font-size="40">15</text>
<text transform="translate(1625.21 438.28) scale(0.9897 1.0304)" font-size="64">p/cm</text>
<text transform="translate(1750.78 404.50) scale(1.0125 0.9885)" font-size="40">2</text>
<text transform="translate(1470.72 621.80) scale(1.0206 1.0714)" font-size="64">5×10</text>
<text transform="translate(1605.19 586.10) scale(0.9265 0.9962)" font-size="40">15</text>
<text transform="translate(1642.11 620.30) scale(0.9913 1.0571)" font-size="64">p/cm</text>
<text transform="translate(1769.62 585.10) scale(1.0375 0.9577)" font-size="40">2</text>
<text transform="translate(1474.70 790.30) scale(1.0000 1.0786)" font-size="64">1×10</text>
<text transform="translate(1606.60 754.20) scale(0.9000 1.0308)" font-size="40">16</text>
<text transform="translate(1644.42 787.72) scale(0.9833 1.0411)" font-size="64">p/cm</text>
<text transform="translate(1770.92 754.20) scale(1.0375 0.9962)" font-size="40">2</text>
<text transform="translate(1223.71 1002.30) scale(1.0286 1.0881)" font-size="64">C=O</text>
<text transform="translate(1226.72 1081.70) scale(0.9975 1.0738)" font-size="64">1730</text>
</svg></body></html>
